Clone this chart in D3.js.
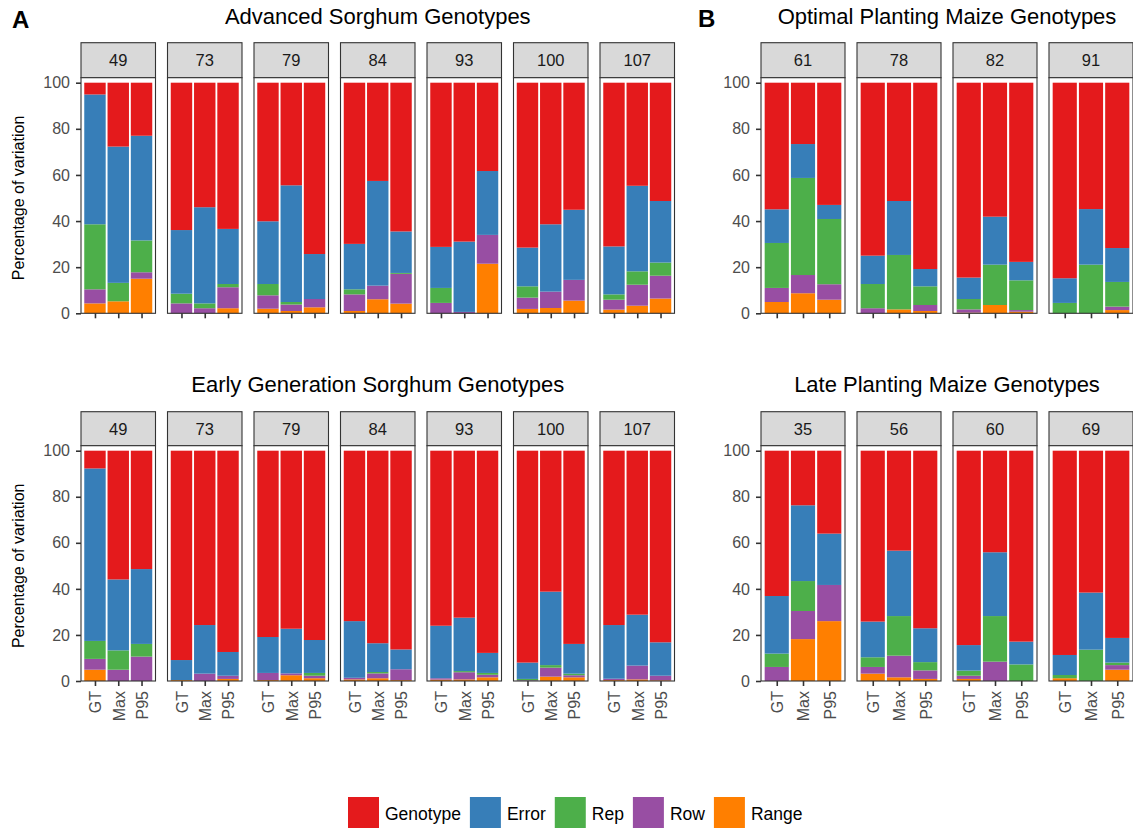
<!DOCTYPE html>
<html><head><meta charset="utf-8">
<script src="https://cdn.jsdelivr.net/npm/d3@7"></script>
<style>body{margin:0;background:#fff}svg{display:block;font-family:"Liberation Sans",Arial,sans-serif}</style>
</head><body><svg id="chart" width="1133" height="828"></svg>
<script>
// ---------- data ----------
const measures = ["GT", "Max", "P95"];
const components = ["Genotype", "Error", "Rep", "Row", "Range"];
const componentColors = ["#E41A1C", "#377EB8", "#4DAF4A", "#984EA3", "#FF7F00"];
const yTicks = [0, 20, 40, 60, 80, 100];
const yAxisTitle = "Percentage of variation";

// Advanced Sorghum Genotypes (values per panel: GT, Max, P95)
const advTitle = "Advanced Sorghum Genotypes";
const advPanels = ["49", "73", "79", "84", "93", "100", "107"];
const advGenotype = [5.1,27.7,23.0, 63.9,54.0,63.4, 60.1,44.5,74.3, 69.9,42.6,64.5, 71.2,68.9,38.3, 71.5,61.4,55.1, 71.0,44.7,51.3];
const advError    = [56.3,59.1,45.4, 27.6,41.7,23.9, 27.2,50.6,19.5, 19.7,45.4,18.0, 17.8,30.5,27.7, 16.8,29.2,30.4, 20.8,37.1,26.7];
const advRep      = [28.2,8.0,13.8, 4.2,2.1,1.4, 4.9,1.1,0, 2.2,0,0.4, 6.5,0,0, 4.9,0,0, 2.3,5.8,5.7];
const advRow      = [6.1,0,2.8, 4.3,2.2,9.1, 5.8,2.8,3.6, 7.2,5.9,12.9, 4.5,0.6,12.5, 4.9,7.1,9.0, 4.3,9.1,9.9];
const advRange    = [4.3,5.2,15.0, 0,0,2.2, 2.0,1.0,2.6, 1.0,6.1,4.2, 0,0,21.5, 1.9,2.3,5.5, 1.6,3.3,6.4];

// Early Generation Sorghum Genotypes
const earlyTitle = "Early Generation Sorghum Genotypes";
const earlyPanels = ["49", "73", "79", "84", "93", "100", "107"];
const earlyGenotype = [7.7,55.9,51.4, 90.9,75.7,87.4, 80.9,77.3,82.2, 74.0,83.6,86.3, 76.0,72.5,87.8, 92.0,61.2,83.9, 75.7,71.2,83.2];
const earlyError    = [74.9,30.8,32.5, 8.7,21.1,10.3, 15.6,19.4,14.3, 24.6,12.5,8.6, 22.8,23.2,8.7, 7.1,31.9,12.9, 23.3,22.1,14.5];
const earlyRep      = [7.8,8.4,5.5, 0,0,0, 0,0,1.2, 0,0.6,0, 0,0.5,0.8, 0.6,1.1,0.7, 0,0,0];
const earlyRow      = [4.7,4.9,10.6, 0,3.2,1.4, 3.1,0.8,1.1, 0.7,2.1,4.7, 0.6,3.1,1.1, 0.3,3.9,0.9, 0.6,6.0,2.0];
const earlyRange    = [4.9,0,0, 0.4,0,0.9, 0.4,2.5,1.2, 0.7,1.2,0.4, 0.6,0.7,1.6, 0,1.9,1.6, 0.4,0.7,0.3];

// Optimal Planting Maize Genotypes
const optTitle = "Optimal Planting Maize Genotypes";
const optPanels = ["61", "78", "82", "91"];
const optGenotype = [54.9,26.6,53.0, 75.0,51.3,80.8, 84.5,58.1,77.7, 84.8,54.8,71.7];
const optError    = [14.6,14.7,6.1, 12.3,23.4,7.5, 9.3,20.8,8.0, 10.7,24.1,14.7];
const optRep      = [19.5,42.1,28.3, 10.5,23.6,8.1, 4.5,17.5,12.9, 4.5,21.1,10.7];
const optRow      = [6.1,7.9,6.7, 2.2,0,2.6, 1.4,0,0.7, 0,0,1.5];
const optRange    = [4.9,8.7,5.9, 0,1.7,1.0, 0.3,3.6,0.7, 0,0,1.4];

// Late Planting Maize Genotypes
const lateTitle = "Late Planting Maize Genotypes";
const latePanels = ["35", "56", "60", "69"];
const lateGenotype = [63.1,23.7,36.0, 74.2,43.4,77.1, 84.4,44.1,82.9, 88.7,61.6,81.3];
const lateError    = [25.0,32.9,22.3, 15.5,28.4,14.7, 11.1,27.7,9.9, 8.7,24.8,10.7];
const lateRep      = [5.8,13.0,0, 4.2,17.2,3.6, 2.2,19.8,7.2, 1.4,13.6,1.1];
const lateRow      = [6.1,12.2,15.7, 2.9,9.4,3.7, 1.4,8.4,0, 0,0,2.0];
const lateRange    = [0,18.2,26.0, 3.2,1.6,0.9, 0.9,0,0, 1.2,0,4.9];

// ---------- build tables ----------
function buildTable(panels, gen, err, rep, row, rng) {
  const out = [];
  panels.forEach((p, i) => measures.forEach((m, j) => {
    const k = i * measures.length + j;
    out.push({panel: p, measure: m, Genotype: gen[k], Error: err[k], Rep: rep[k], Row: row[k], Range: rng[k]});
  }));
  return out;
}
const advData = buildTable(advPanels, advGenotype, advError, advRep, advRow, advRange);
const earlyData = buildTable(earlyPanels, earlyGenotype, earlyError, earlyRep, earlyRow, earlyRange);
const optData = buildTable(optPanels, optGenotype, optError, optRep, optRow, optRange);
const lateData = buildTable(latePanels, lateGenotype, lateError, lateRep, lateRow, lateRange);

// ---------- drawing ----------
const svg = d3.select("#chart");
const color = d3.scaleOrdinal().domain(components).range(componentColors);
const stacker = d3.stack().keys(components.slice().reverse()); // Range at bottom, Genotype on top

const TXT = "#4D4D4D", LINE = "#333333";

function drawGroup(o) {
  const g = svg.append("g");
  const y = d3.scaleLinear().domain([0, 100]).range([o.yBottom, o.yTop]);
  o.panels.forEach((p, i) => {
    const px = o.x0 + i * o.pstep;
    const x = d3.scalePoint().domain(measures).range([px, px + o.pw]).padding(0.6);
    const bw = x.step() * 0.92;
    const rows = o.data.filter(d => d.panel === p);
    const series = stacker(rows);
    // strip
    g.append("rect").attr("x", px).attr("y", o.stripTop).attr("width", o.pw).attr("height", o.stripH)
      .attr("fill", "#D9D9D9").attr("stroke", LINE).attr("stroke-width", 1.1);
    g.append("text").attr("x", px + o.pw / 2).attr("y", o.stripTop + o.stripH / 2 + 6)
      .attr("text-anchor", "middle").attr("font-size", 16.5).attr("fill", "#1A1A1A").text(p);
    // panel
    g.append("rect").attr("x", px).attr("y", o.stripTop + o.stripH).attr("width", o.pw)
      .attr("height", o.yBottom - o.stripTop - o.stripH).attr("fill", "#fff");
    // bars
    series.forEach(s => {
      g.append("g").selectAll("rect").data(s).join("rect")
        .attr("x", d => x(d.data.measure) - bw / 2)
        .attr("y", d => y(d[1]))
        .attr("width", bw)
        .attr("height", d => Math.max(0, y(d[0]) - y(d[1])))
        .attr("fill", color(s.key));
    });
    g.append("rect").attr("x", px).attr("y", o.stripTop + o.stripH).attr("width", o.pw)
      .attr("height", o.yBottom - o.stripTop - o.stripH).attr("fill", "none")
      .attr("stroke", LINE).attr("stroke-width", 1.1);
    // x axis
    const ax = g.append("g").attr("transform", `translate(0,${o.yBottom})`)
      .call(d3.axisBottom(x).tickSize(5).tickPadding(5).tickFormat(o.showXLabels ? (d => d) : () => ""));
    ax.select(".domain").remove();
    ax.selectAll(".tick line").attr("stroke", LINE).attr("stroke-width", 1.6);
    ax.selectAll(".tick text")
      .attr("font-size", 16).attr("font-family", "Liberation Sans, Arial, sans-serif").attr("fill", TXT)
      .attr("text-anchor", "end").attr("transform", "translate(0,10) rotate(-90)")
      .attr("x", 0).attr("y", 0).attr("dy", "0.36em");
  });
  // y axis
  const ay = g.append("g").attr("transform", `translate(${o.x0},0)`)
    .call(d3.axisLeft(y).tickValues(yTicks).tickSize(5).tickPadding(6));
  ay.select(".domain").remove();
  ay.selectAll(".tick line").attr("stroke", LINE).attr("stroke-width", 1.6);
  ay.selectAll(".tick text").attr("font-size", 16).attr("font-family", "Liberation Sans, Arial, sans-serif").attr("fill", TXT);
  // title
  const cx = o.x0 + ((o.panels.length - 1) * o.pstep + o.pw) / 2;
  g.append("text").attr("x", cx).attr("y", o.titleY).attr("text-anchor", "middle")
    .attr("font-size", 22).attr("fill", "#000").text(o.title);
  if (o.letter) {
    g.append("text").attr("x", o.letterX).attr("y", o.letterY).attr("font-size", 24)
      .attr("font-weight", "bold").attr("fill", "#000").text(o.letter);
  }
  if (o.showYTitle) {
    const cy = (o.yTop + o.yBottom) / 2;
    g.append("text").attr("transform", `translate(23.5,${cy}) rotate(-90)`).attr("text-anchor", "middle")
      .attr("font-size", 16).attr("fill", "#000").text(yAxisTitle);
  }
}

const rowTop = {stripTop: 42.7, stripH: 35, yTop: 82.7, yBottom: 313.3, titleY: 24};
const rowBot = {stripTop: 411.7, stripH: 34, yTop: 450.7, yBottom: 681, titleY: 392};
const colLeft = {x0: 81, pstep: 86.5, pw: 74.5};
const colRight = {x0: 761, pstep: 96, pw: 84};

drawGroup(Object.assign({}, rowTop, colLeft, {panels: advPanels, data: advData, title: advTitle, letter: "A", letterX: 12, letterY: 27.5, showYTitle: true, showXLabels: false}));
drawGroup(Object.assign({}, rowBot, colLeft, {panels: earlyPanels, data: earlyData, title: earlyTitle, showYTitle: true, showXLabels: true}));
drawGroup(Object.assign({}, rowTop, colRight, {panels: optPanels, data: optData, title: optTitle, letter: "B", letterX: 698, letterY: 27, showYTitle: false, showXLabels: false}));
drawGroup(Object.assign({}, rowBot, colRight, {panels: latePanels, data: lateData, title: lateTitle, showYTitle: false, showXLabels: true}));

// legend
const lg = svg.append("g");
let lx = 348;
components.forEach(c => {
  lg.append("rect").attr("x", lx).attr("y", 797).attr("width", 31).attr("height", 31).attr("fill", color(c));
  const t = lg.append("text").attr("x", lx + 37).attr("y", 819.5).attr("font-size", 17.5).attr("fill", "#000").text(c);
  lx += 37 + t.node().getComputedTextLength() + 9;
});
</script></body></html>
